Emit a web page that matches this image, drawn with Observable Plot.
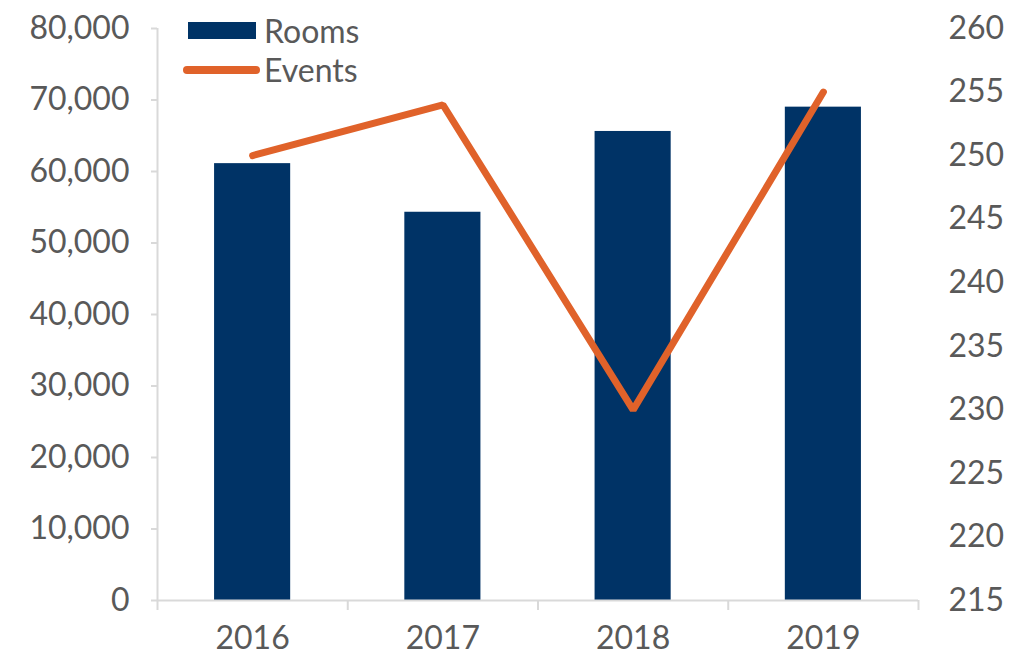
<!DOCTYPE html>
<html>
<head>
<meta charset="utf-8">
<script src="https://cdn.jsdelivr.net/npm/d3@7"></script>
<script src="https://cdn.jsdelivr.net/npm/@observablehq/plot@0.6"></script>
<style>
  html, body { margin: 0; padding: 0; background: #fff; }
  #wrap { position: relative; width: 1010px; height: 657px; font-family: Lato, "Noto Sans", sans-serif; color: #595959; }
  #legend { position: absolute; left: 183px; top: 11px; font-size: 32px; line-height: 39px; }
  .item { display: flex; align-items: center; height: 39px; }
  .sw-bar { width: 68px; height: 17px; background: #003366; margin-left: 5px; margin-right: 8px; }
  .sw-line { width: 77px; height: 8px; border-radius: 4px; background: #E0622A; margin-right: 4px; }
</style>
</head>
<body>
<div id="wrap"><div id="legend"></div></div>
<script>
const years = [2016, 2017, 2018, 2019];
const rooms = [61100, 54300, 65600, 69000];
const events = [250, 254, 230, 255];
const roomTicks = [0, 10000, 20000, 30000, 40000, 50000, 60000, 70000, 80000];
const eventTicks = [215, 220, 225, 230, 235, 240, 245, 250, 255, 260];
const roomDomain = [0, 80000];
const eventDomain = [215, 260];

const NAVY = "#003366", ORANGE = "#E0622A", GRID = "#d9d9d9", TEXT = "#595959";

// map events onto rooms scale (secondary axis)
const toRooms = v => roomDomain[0] + (v - eventDomain[0]) / (eventDomain[1] - eventDomain[0]) * (roomDomain[1] - roomDomain[0]);
const toEvents = r => eventDomain[0] + (r - roomDomain[0]) / (roomDomain[1] - roomDomain[0]) * (eventDomain[1] - eventDomain[0]);

const data = years.map((y, i) => ({year: y, rooms: rooms[i], events: events[i], eventsR: toRooms(events[i])}));
const boundaries = years.map(y => y - 0.5).concat([years[years.length - 1] + 0.5]);

const chart = Plot.plot({
  width: 1010,
  height: 657,
  marginLeft: 157,
  marginRight: 92,
  marginTop: 28,
  marginBottom: 57,
  style: {fontFamily: "Lato, 'Noto Sans', sans-serif", fontSize: "32px", color: TEXT, background: "white", overflow: "visible"},
  x: {domain: [boundaries[0], boundaries[boundaries.length - 1]]},
  y: {domain: roomDomain},
  marks: [
    Plot.rectY(data, {x1: d => d.year - 0.2, x2: d => d.year + 0.2, y1: 0, y2: "rooms", fill: NAVY}),
    Plot.ruleX([boundaries[0]], {y1: roomDomain[0], y2: roomDomain[1], stroke: GRID, strokeWidth: 2}),
    Plot.ruleY([0], {x1: boundaries[0], x2: boundaries[boundaries.length - 1], stroke: GRID, strokeWidth: 2}),
    Plot.axisY({ticks: roomTicks, tickSize: 6, tickPadding: 22, tickFormat: d => d3.format(",")(d), stroke: GRID, strokeWidth: 2, fill: TEXT, label: null}),
    Plot.axisY({anchor: "right", ticks: eventTicks.map(toRooms), tickSize: 0, tickPadding: 30, tickFormat: d => Math.round(toEvents(d)), fill: TEXT, textAnchor: "start", label: null}),
    Plot.axisX({ticks: boundaries, tickSize: 10, tickFormat: () => "", stroke: GRID, strokeWidth: 2, label: null}),
    Plot.axisX({ticks: years, tickSize: 0, tickPadding: 26, tickFormat: d => String(d), fill: TEXT, label: null}),
    Plot.line(data, {x: "year", y: "eventsR", stroke: ORANGE, strokeWidth: 7, strokeLinecap: "round", strokeLinejoin: "miter"})
  ]
});
document.getElementById("wrap").appendChild(chart);

const legend = document.getElementById("legend");
legend.innerHTML = `<div class="item"><span class="sw-bar"></span><span>Rooms</span></div>
<div class="item"><span class="sw-line"></span><span>Events</span></div>`;
legend.parentNode.appendChild(legend);
</script>
</body>
</html>
